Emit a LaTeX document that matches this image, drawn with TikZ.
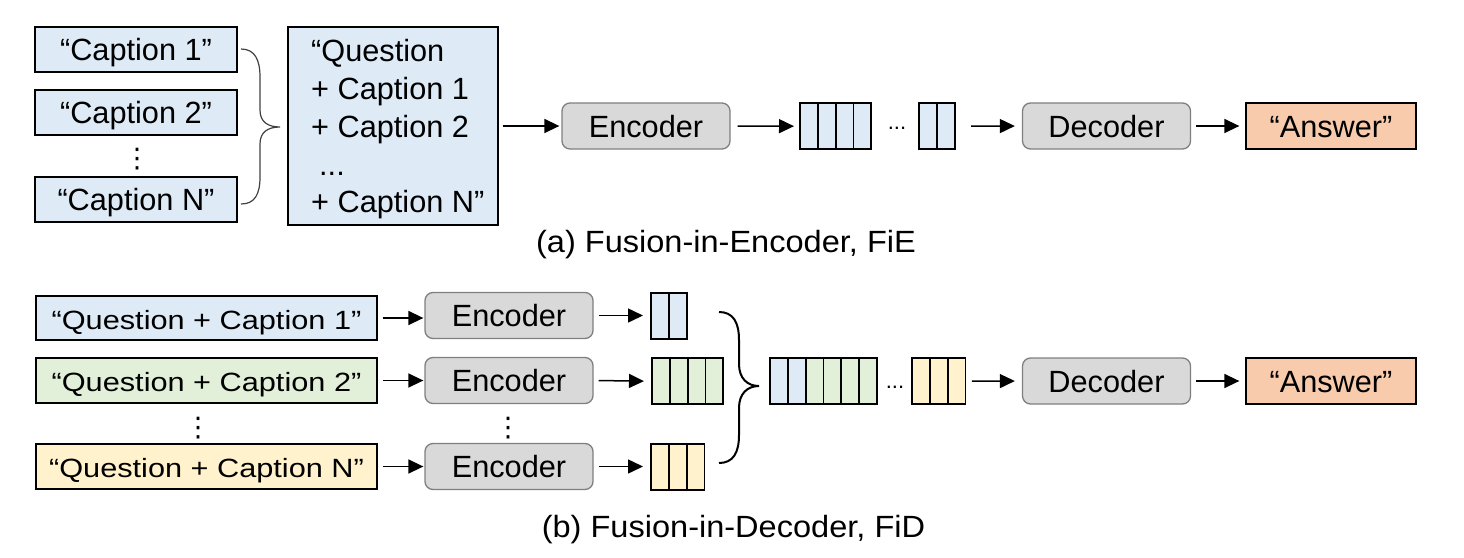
\documentclass[tikz,border=0pt]{standalone}
\usepackage{fontspec}
\setmainfont{Liberation Sans}
\newfontfamily\symfont{DejaVu Sans}
\usetikzlibrary{arrows.meta}
\definecolor{cblue}{HTML}{DEEBF7}
\definecolor{cgreen}{HTML}{E2F0D9}
\definecolor{cyellow}{HTML}{FFF2CC}
\definecolor{cpeach}{HTML}{F8CBAD}
\definecolor{cgrey}{HTML}{D9D9D9}
\definecolor{cgreyline}{HTML}{7F7F7F}
\newcommand\squish[1]{\scalebox{1}[0.86]{#1}}
\newcommand\vecbox[5]{% name, x, ytop, n, colours
  \foreach \c [count=\i from 0] in {#5} {\draw[cellline, fill=\c] ({#2+\i*17.8},{#3}) rectangle ++(17.8,46);}
  \node[inner sep=0pt, minimum width={#4*17.8pt}, minimum height=46pt, anchor=north west] (#1) at (#2,#3) {};
}
\tikzset{
  txt/.style={font=\fontsize{30.7}{37.75}\selectfont},
  frame/.style={draw=black, line width=1.3pt, inner sep=0pt},
  textbox/.style={txt, frame, text height=22pt, text depth=0pt},
  model/.style={txt, draw=cgreyline, fill=cgrey, line width=1.3pt, rounded corners=8pt, inner sep=0pt,
    minimum width=168pt, minimum height=46pt, text height=22pt, text depth=0pt},
  cellline/.style={draw=black, line width=1.8pt},
  arr/.style={line width=1.5pt, -{Triangle[length=15pt,width=14pt]}},
  brace/.style={line width=1.2pt},
  caption/.style={txt, anchor=base, inner sep=0pt},
  dotsnode/.style={inner sep=0pt, font=\fontsize{22}{22}\selectfont, anchor=base},
  vdotsnode/.style={inner sep=0pt, font=\symfont\fontsize{27}{27}\selectfont},
}
\begin{document}
\begin{tikzpicture}[x=1pt,y=-1pt]
\useasboundingbox (0,0) rectangle (1464,557);
% ---------- (a) FiE ----------
\node[textbox, fill=cblue, minimum width=202pt, minimum height=45pt] (c1) at (136,49.5) {“Caption 1”};
\node[textbox, fill=cblue, minimum width=202pt, minimum height=45pt] (c2) at (136,112.5) {“Caption 2”};
\node[vdotsnode] (cd) at (137,159) {⋮};
\node[textbox, fill=cblue, minimum width=202pt, minimum height=45pt] (cn) at (136,199.5) {“Caption N”};
\coordinate (bta) at (241,49);
\coordinate (btb) at (280,127);
\coordinate (btc) at (241,204);
\draw[brace, draw=black!75] (bta) .. controls (255,49) and (260,60) .. (260,77) -- (260,110)
  .. controls (260,122) and (268,127) .. (btb)
  .. controls (268,127) and (260,132) .. (260,144) -- (260,177)
  .. controls (260,194) and (255,204) .. (btc);
\node[frame, fill=cblue, minimum width=210pt, minimum height=198pt] (big) at (393,126) {};
\node[txt, inner sep=0pt, align=left, anchor=north west] (bigtxt) at (311,39.5)
  {“Question\\+ Caption 1\\+ Caption 2\\\hspace{8pt}...\\+ Caption N”};
\node[model] (enc) at (646,126) {Encoder};
\vecbox{va}{800}{103}{4}{cblue,cblue,cblue,cblue}
\node[dotsnode] (da) at (897,129) {...};
\vecbox{vb}{919}{103}{2}{cblue,cblue}
\node[model] (dec) at (1106.5,126) {Decoder};
\node[textbox, fill=cpeach, minimum width=170pt, minimum height=46pt] (ans) at (1331,126) {“Answer”};
\draw[arr, shorten <=4pt, shorten >=2pt] (big.east |- enc.west) -- (enc.west);
\draw[arr, shorten <=7pt, shorten >=6pt] (enc.east) -- (va.west);
\draw[arr, shorten <=16pt, shorten >=7pt] (vb.east) -- (dec.west);
\draw[arr, shorten <=5pt, shorten >=6pt] (dec.east) -- (ans.west);
\node[caption] (capa) at (726,252) {\scalebox{1.06}[1]{(a) Fusion-in-Encoder, FiE}};
% ---------- (b) FiD ----------
\node[textbox, fill=cblue, minimum width=341pt, minimum height=44pt] (q1) at (206.5,318) {\squish{“Question + Caption 1”}};
\node[textbox, fill=cgreen, minimum width=341pt, minimum height=45pt] (q2) at (206.5,380.5) {\squish{“Question + Caption 2”}};
\node[vdotsnode] (qd) at (198,428) {⋮};
\node[textbox, fill=cyellow, minimum width=341pt, minimum height=45pt] (qn) at (206.5,466.5) {\squish{“Question + Caption N”}};
\node[model] (e1) at (509,315.5) {Encoder};
\node[model] (e2) at (509,380.5) {Encoder};
\node[vdotsnode] (ed) at (508,428) {⋮};
\node[model] (en) at (509,466.5) {Encoder};
\draw[arr, shorten <=5pt, shorten >=1pt] (q1.east) -- (q1.east -| e1.west);
\draw[arr, shorten <=5pt, shorten >=1pt] (q2.east) -- (e2.west);
\draw[arr, shorten <=5pt, shorten >=1pt] (qn.east) -- (en.west);
\vecbox{v1}{651}{293}{2}{cblue,cblue}
\vecbox{v2}{652}{358}{4}{cgreen,cgreen,cgreen,cgreen}
\vecbox{vn}{651}{444}{3}{cyellow,cyellow,cyellow}
\draw[arr, shorten <=5pt, shorten >=8pt] (e1.east) -- (e1.east -| v1.west);
\draw[arr, shorten <=5pt, shorten >=8pt] (e2.east) -- (v2.west);
\draw[arr, shorten <=5pt, shorten >=8pt] (en.east) -- (en.east -| vn.west);
\coordinate (bba) at (719,312);
\coordinate (bbb) at (759,386);
\coordinate (bbc) at (719,463);
\draw[brace, line width=2pt] (bba) .. controls (733,312) and (739,322) .. (739,340) -- (739,364)
  .. controls (739,378) and (747,386) .. (bbb)
  .. controls (747,386) and (739,394) .. (739,408) -- (739,435)
  .. controls (739,453) and (733,463) .. (bbc);
\vecbox{vc}{770}{358}{6}{cblue,cblue,cgreen,cgreen,cgreen,cgreen}
\node[dotsnode] (db) at (895,388) {...};
\vecbox{ve}{912}{358}{3}{cyellow,cyellow,cyellow}
\node[model] (dec2) at (1106.5,381) {Decoder};
\node[textbox, fill=cpeach, minimum width=170pt, minimum height=46pt] (ans2) at (1331,381) {“Answer”};
\draw[arr, shorten <=6pt, shorten >=7pt] (ve.east) -- (dec2.west);
\draw[arr, shorten <=5pt, shorten >=6pt] (dec2.east) -- (ans2.west);
\node[caption] (capb) at (733.5,537) {\scalebox{1.06}[1]{(b) Fusion-in-Decoder, FiD}};
\end{tikzpicture}
\end{document}
